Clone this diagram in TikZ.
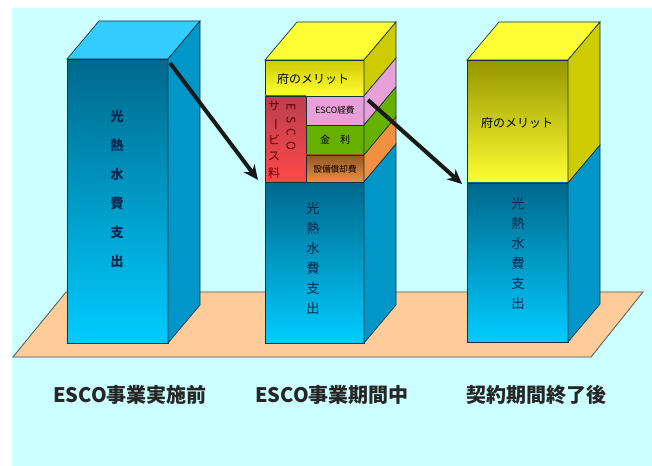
\documentclass[tikz,border=0pt]{standalone}
\usepackage{fontspec}
\newfontfamily\jp{Noto Sans CJK JP}
\usetikzlibrary{arrows.meta}

\definecolor{bgcyan}{RGB}{204,255,255}
\definecolor{floorpeach}{RGB}{255,204,153}
\definecolor{bluetop}{RGB}{51,204,255}
\definecolor{blueside}{RGB}{0,150,200}
\definecolor{bluedark}{RGB}{0,104,140}
\definecolor{bluelight}{RGB}{0,204,255}
\definecolor{yeltop}{RGB}{255,255,51}
\definecolor{yelside}{RGB}{204,204,0}
\definecolor{yeldark}{RGB}{150,150,0}
\definecolor{escored}{RGB}{255,72,72}
\definecolor{escoreddark}{RGB}{184,64,80}
\definecolor{escopink}{RGB}{232,160,216}
\definecolor{escogreen}{RGB}{102,176,0}
\definecolor{escoorange}{RGB}{240,144,64}
\definecolor{edgecol}{RGB}{20,50,60}
\definecolor{inkblue}{RGB}{10,40,80}

\begin{document}
\begin{tikzpicture}[x=0.75pt,y=0.75pt,yscale=-1,xscale=1,
    face/.style={draw=edgecol,line width=0.5pt},
    vtext/.style={inner sep=0pt,align=center,text=inkblue},
    cell/.style={inner sep=0pt,font=\jp\fontsize{6.5}{7}\selectfont},
    period/.style={inner sep=0pt,font=\jp\bfseries\fontsize{15}{16}\selectfont,text=black!85},
    move/.style={-{Stealth[length=11pt,width=10pt]},line width=3pt,black!90}]
        \useasboundingbox (0,0) rectangle (652,466);
        %Background
        \fill [white] (0,0) rectangle (652,466);
        \fill [bgcyan] (12,8) rectangle (652,466);
        %Shape: Floor [id:floor]
        \draw [floorpeach,fill=floorpeach] (13,357) -- (66,292) -- (643,292) -- (591,357) -- cycle;
        \draw [edgecol!80,line width=0.6pt] (13,357) -- (66,292) -- (643,292) -- (591,357) -- cycle;

        %Box 1 : before
        \shade [face,top color=bluedark,bottom color=bluelight] (67,59) rectangle (168,343);
        \draw [face,fill=bluetop] (67,59) -- (99,21) -- (200,21) -- (168,59) -- cycle;
        \draw [face,fill=blueside] (168,59) -- (200,21) -- (200,305) -- (168,343) -- cycle;
        \node [vtext,font=\jp\bfseries\fontsize{10}{21.75}\selectfont] (cost1) at (117,189) {光\\熱\\水\\費\\支\\出};

        %Box 2 : during
        \shade [face,top color=yelside,bottom color=yeltop] (265,60) rectangle (364,96);
        \shade [face,top color=bluedark,bottom color=bluelight] (265,182) rectangle (364,343);
        \shade [face,top color=escoreddark,bottom color=escored] (265,96) rectangle (306,182);
        \draw [face,fill=escopink] (306,96) rectangle (364,125);
        \draw [face,fill=escogreen] (306,125) rectangle (364,155);
        \shade [face,top color=escoorange!60!black,bottom color=escoorange] (306,155) rectangle (364,182);
        \draw [face,fill=yeltop] (265,60) -- (297,22) -- (396,22) -- (364,60) -- cycle;
        \draw [face,fill=yelside] (364,60) -- (396,22) -- (396,58) -- (364,96) -- cycle;
        \draw [face,fill=escopink] (364,96) -- (396,58) -- (396,87) -- (364,125) -- cycle;
        \draw [face,fill=escogreen] (364,125) -- (396,87) -- (396,117) -- (364,155) -- cycle;
        \draw [face,fill=escoorange] (364,155) -- (396,117) -- (396,144) -- (364,182) -- cycle;
        \draw [face,fill=blueside] (364,182) -- (396,144) -- (396,305) -- (364,343) -- cycle;
        \node [inner sep=0pt,font=\jp\fontsize{9}{10}\selectfont] (merit2) at (313,79) {府のメリット};
        \node [inner sep=0pt,align=center,text=red!40!black,font=\jp\fontsize{9}{12.5}\selectfont] (fee) at (274,140) {サ\\\rotatebox[origin=c]{-90}{ー}\\ビ\\ス\\料};
        \node [inner sep=0pt,rotate=-90,text=red!40!black,font=\jp\fontsize{9}{10}\selectfont\addfontfeature{LetterSpace=45}] (feeesco) at (291,127) {ESCO};
        \node [cell] (expense) at (335,110) {ESCO経費};
        \node [cell,font=\jp\fontsize{7.5}{8}\selectfont] (interest) at (335,140) {金\quad 利};
        \node [cell] (depreciation) at (335,169) {設備償却費};
        \node [vtext,font=\jp\fontsize{10}{15}\selectfont] (cost2) at (313,258) {光\\熱\\水\\費\\支\\出};

        %Box 3 : after
        \shade [face,top color=yeldark,bottom color=yeltop] (467,60) rectangle (568,183);
        \shade [face,top color=bluedark,bottom color=bluelight] (467,183) rectangle (568,342);
        \draw [face,fill=yeltop] (467,60) -- (499,22) -- (600,22) -- (568,60) -- cycle;
        \draw [face,fill=yelside] (568,60) -- (600,22) -- (600,145) -- (568,183) -- cycle;
        \draw [face,fill=blueside] (568,183) -- (600,145) -- (600,304) -- (568,342) -- cycle;
        \node [inner sep=0pt,font=\jp\fontsize{9}{10}\selectfont] (merit3) at (517,123) {府のメリット};
        \node [vtext,font=\jp\fontsize{10}{15}\selectfont] (cost3) at (518,253) {光\\熱\\水\\費\\支\\出};

        %Arrows
        \coordinate (from1) at (170,63);
        \coordinate (to1) at (258,180);
        \coordinate (from2) at (368,100);
        \coordinate (to2) at (462,184);
        \draw [move] (from1) -- (to1);
        \draw [move] (from2) -- (to2);

        %Labels
        \node [period] (before) at (130,395) {ESCO事業実施前};
        \node [period] (during) at (332,395) {ESCO事業期間中};
        \node [period] (after) at (536,395) {契約期間終了後};
    \end{tikzpicture}
\end{document}
